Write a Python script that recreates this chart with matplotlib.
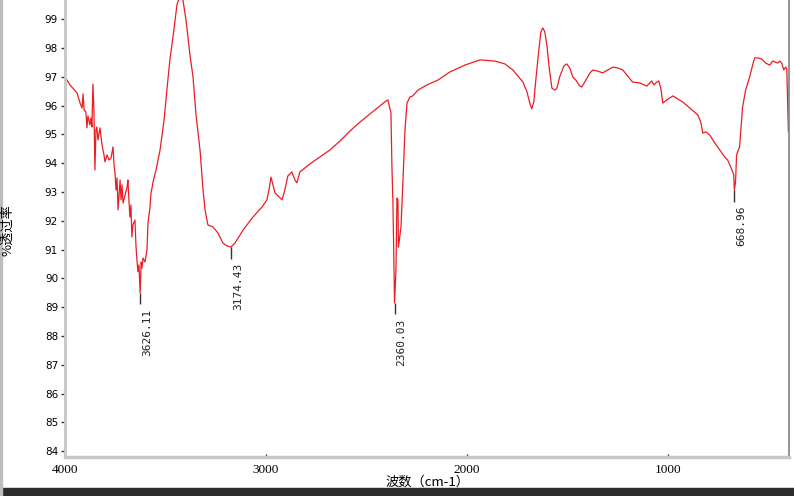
import matplotlib
matplotlib.use('Agg')
import matplotlib.pyplot as plt
from matplotlib.patches import Rectangle
from matplotlib.ticker import MultipleLocator

# волновое число (см-1) и пропускание (%)
wavenumber = [
    4000, 3975, 3940, 3925, 3915, 3910, 3905, 3896, 3891, 3886,
    3876, 3871, 3866, 3861, 3856, 3851, 3846, 3841, 3836, 3826,
    3816, 3806, 3801, 3791, 3781, 3771, 3761, 3756, 3751, 3746,
    3741, 3736, 3726, 3721, 3716, 3711, 3701, 3691, 3687, 3682,
    3677, 3672, 3667, 3662, 3652, 3647, 3642, 3637, 3632, 3626.11,
    3621, 3617, 3612, 3602, 3592, 3587, 3577, 3572, 3567, 3562,
    3547, 3527, 3507, 3493, 3478, 3458, 3443, 3428, 3413, 3398,
    3378, 3363, 3348, 3328, 3313, 3303, 3289, 3264, 3239, 3214,
    3194, 3174.43, 3154, 3114, 3065, 3020, 2995, 2985, 2975, 2965,
    2955, 2935, 2920, 2906, 2891, 2871, 2856, 2846, 2831, 2781,
    2731, 2682, 2632, 2582, 2532, 2483, 2433, 2403, 2393, 2378,
    2373, 2368, 2363, 2360.03, 2353, 2348, 2343, 2341, 2338, 2328,
    2318, 2308, 2298, 2284, 2269, 2244, 2199, 2144, 2085, 2010,
    1935, 1861, 1811, 1771, 1746, 1721, 1701, 1687, 1677, 1667,
    1657, 1647, 1632, 1622, 1612, 1602, 1592, 1577, 1562, 1552,
    1537, 1517, 1503, 1488, 1473, 1458, 1438, 1428, 1408, 1388,
    1373, 1349, 1324, 1299, 1274, 1249, 1224, 1200, 1175, 1140,
    1105, 1090, 1080, 1070, 1060, 1045, 1035, 1025, 1005, 975,
    950, 926, 891, 851, 836, 826, 811, 791, 766, 741,
    717, 702, 687, 677, 672, 668.96, 663, 658, 653, 643,
    628, 613, 593, 578, 568, 553, 533, 513, 493, 478,
    468, 453, 443, 433, 423, 413, 408, 400,
]
transmittance = [
    97.00, 96.72, 96.44, 96.09, 95.92, 96.41, 95.85, 95.78, 95.23, 95.64,
    95.33, 95.57, 95.26, 96.75, 95.85, 93.77, 95.16, 95.26, 94.81, 95.23,
    94.64, 94.29, 94.05, 94.29, 94.11, 94.18, 94.57, 93.94, 93.66, 93.07,
    93.49, 92.38, 93.42, 92.73, 93.25, 92.62, 92.90, 93.18, 93.42, 92.73,
    92.13, 92.55, 91.44, 91.86, 92.03, 91.16, 90.64, 90.23, 90.47, 89.50,
    90.57, 90.36, 90.71, 90.57, 90.99, 91.93, 92.48, 92.97, 93.14, 93.35,
    93.77, 94.46, 95.50, 96.54, 97.59, 98.63, 99.50, 99.84, 99.67, 98.98,
    97.76, 97.00, 95.68, 94.46, 93.07, 92.38, 91.86, 91.79, 91.58, 91.23,
    91.13, 91.09, 91.23, 91.68, 92.13, 92.48, 92.73, 93.07, 93.52, 93.25,
    92.97, 92.83, 92.73, 93.07, 93.56, 93.70, 93.42, 93.32, 93.70, 93.98,
    94.22, 94.46, 94.77, 95.12, 95.43, 95.71, 95.99, 96.16, 96.20, 95.75,
    93.87, 92.62, 90.29, 89.15, 90.29, 92.79, 92.73, 91.09, 91.23, 91.79,
    93.42, 95.16, 96.09, 96.30, 96.34, 96.54, 96.72, 96.89, 97.17, 97.41,
    97.59, 97.55, 97.45, 97.24, 97.03, 96.82, 96.48, 96.09, 95.89, 96.13,
    96.89, 97.59, 98.56, 98.70, 98.56, 98.11, 97.41, 96.61, 96.54, 96.61,
    97.03, 97.38, 97.45, 97.31, 97.00, 96.89, 96.68, 96.65, 96.89, 97.13,
    97.24, 97.20, 97.14, 97.24, 97.34, 97.31, 97.24, 97.03, 96.82, 96.79,
    96.68, 96.79, 96.86, 96.72, 96.79, 96.86, 96.61, 96.09, 96.20, 96.34,
    96.23, 96.13, 95.92, 95.68, 95.43, 95.05, 95.09, 94.98, 94.70, 94.46,
    94.22, 94.11, 93.87, 93.70, 93.59, 93.07, 93.35, 94.29, 94.39, 94.57,
    95.95, 96.54, 96.99, 97.41, 97.66, 97.66, 97.62, 97.48, 97.41, 97.55,
    97.52, 97.48, 97.55, 97.48, 97.24, 97.34, 97.27, 95.09,
]

# подписанные пики
peak_wn = [3626.11, 3174.43, 2360.03, 668.96]
peak_labels = ['3626.11', '3174.43', '2360.03', '668.96']

x_ticks = [4000, 3000, 2000, 1000]
y_ticks = list(range(84, 100))

fig = plt.figure(figsize=(7.94, 4.96), dpi=100)
ax = fig.add_axes([65 / 794, 1 - 457 / 496, 724 / 794, 457 / 496])

ax.plot(wavenumber, transmittance, color='#ec1c24', linewidth=0.9)

# метки пиков: короткая черта вниз и вертикальная подпись
for wn, lab in zip(peak_wn, peak_labels):
    t = transmittance[wavenumber.index(wn)]
    ax.vlines(wn, t - 0.4, t, color='#333333', linewidth=1.0)
    ax.annotate(lab, xy=(wn, t - 0.4), xytext=(1.5, -3),
                textcoords='offset points', rotation=90,
                ha='left', va='top', fontsize=8,
                family='DejaVu Sans Mono', color='#222222')

ax.set_xlim(4000, 397)
ax.set_ylim(83.8, 99.67)

ax.set_xticks(x_ticks)
ax.set_yticks(y_ticks)
ax.xaxis.set_minor_locator(MultipleLocator(200))
ax.yaxis.set_minor_locator(MultipleLocator(0.1))
ax.tick_params(axis='y', which='major', direction='out', length=3,
               width=1, color='#333333', labelsize=7.5, pad=2)
ax.tick_params(axis='y', which='minor', direction='out', length=1,
               width=1, color='#555555')
ax.tick_params(axis='x', which='major', direction='in', length=2,
               width=1, color='#333333', pad=5)
ax.tick_params(axis='x', which='minor', direction='in', length=1,
               width=1, color='#444444')
for lab in ax.get_xticklabels():
    lab.set_family('Liberation Serif')
    lab.set_fontsize(9.5)

ax.spines['top'].set_visible(False)
ax.spines['left'].set_color('#c8c8c8')
ax.spines['left'].set_linewidth(2)
ax.spines['bottom'].set_color('#c8c8c8')
ax.spines['bottom'].set_linewidth(2.5)
ax.spines['right'].set_color('#808080')
ax.spines['right'].set_linewidth(1.2)

ax.set_xlabel('波数（cm-1）', family=['Noto Sans CJK SC', 'DejaVu Sans'],
              fontsize=9.5, labelpad=0)
fig.text(8 / 794, 1 - 230 / 496, '%透过率', rotation=90, ha='center',
         va='center', family=['Noto Sans CJK SC', 'DejaVu Sans'], fontsize=9.5)

# рамка окна: тёмная полоса внизу и серая слева
fig.patches.append(Rectangle((0, 0), 1, 8 / 496, transform=fig.transFigure,
                             color='#2b2b2b', zorder=0))
fig.patches.append(Rectangle((0, 0), 2 / 794, 1, transform=fig.transFigure,
                             color='#bdbdbd', zorder=0))

fig.savefig('out.png', dpi=100)
